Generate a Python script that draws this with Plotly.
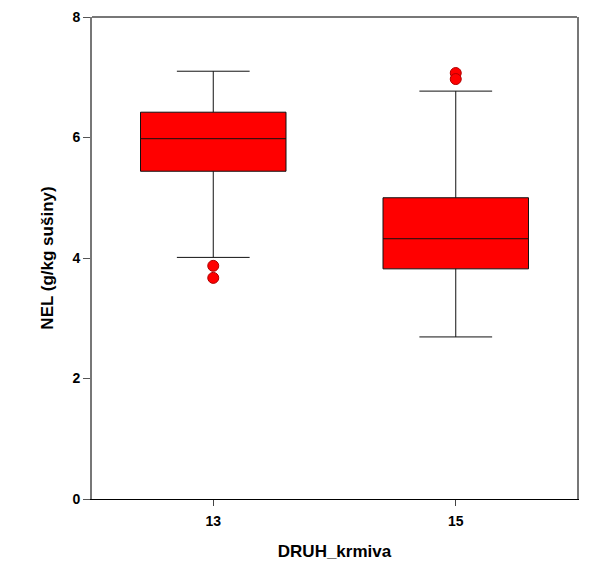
import plotly.graph_objects as go

categories = ["13", "15"]
q1 = [5.44, 3.82]
median = [5.98, 4.32]
q3 = [6.42, 5.00]
lowerfence = [4.01, 2.69]
upperfence = [7.10, 6.77]
outlier_x = ["13", "13", "15", "15"]
outlier_y = [3.87, 3.67, 7.07, 6.97]

fig = go.Figure()
fig.add_trace(go.Box(
    x=categories, q1=q1, median=median, q3=q3,
    lowerfence=lowerfence, upperfence=upperfence,
    fillcolor="#ff0000", line=dict(color="#111111", width=1),
    width=0.6, whiskerwidth=0.5, boxpoints=False, showlegend=False,
    hoverinfo="skip",
))
fig.add_trace(go.Scatter(
    x=outlier_x, y=outlier_y, mode="markers",
    marker=dict(color="#ff0000", size=11, line=dict(color="#b00000", width=1)),
    showlegend=False, hoverinfo="skip",
))

font_b = "Liberation Sans, Arial, sans-serif"
fig.update_layout(
    width=594, height=565,
    margin=dict(l=84, r=25, t=9, b=74),
    paper_bgcolor="white", plot_bgcolor="white",
    font=dict(family=font_b, color="black"),
    xaxis=dict(
        type="category", range=[-0.5, 1.5], automargin=False,
        showline=True, linecolor="black", linewidth=1,
        ticks="outside", ticklen=6, tickcolor="#444", ticklabelstandoff=3,
        showgrid=False, zeroline=False,
        tickfont=dict(size=14, family=font_b, weight="bold"),
        title=dict(text="DRUH_krmiva", font=dict(size=17, weight="bold"), standoff=17),
    ),
    yaxis=dict(
        range=[0, 8], tickvals=[0, 2, 4, 6, 8], automargin=False,
        showline=True, linecolor="#777", linewidth=2, mirror=True,
        ticks="outside", ticklen=7, tickcolor="#555",
        showgrid=False, zeroline=False,
        tickfont=dict(size=14, family=font_b, weight="bold"),
        title=dict(text="NEL (g/kg sušiny)", font=dict(size=17, weight="bold"), standoff=14),
    ),
    shapes=[dict(type="line", xref="paper", yref="paper", x0=0, x1=1, y0=1, y1=1,
                 line=dict(color="#777", width=2))],
)

fig.write_html("out.html")
